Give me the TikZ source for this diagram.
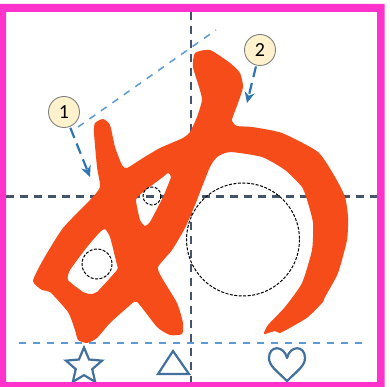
\documentclass[tikz,border=0pt]{standalone}
\usepackage{fontspec}
\setmainfont{Carlito}
\usepackage{tikz}
\usetikzlibrary{arrows.meta, shapes.geometric}
\definecolor{framepink}{HTML}{FF33CC}
\definecolor{glyphred}{HTML}{F54C19}
\definecolor{guideslate}{HTML}{44546A}
\definecolor{guideblue}{HTML}{5B9BD5}
\definecolor{arrowblue}{HTML}{2E75B6}
\definecolor{markblue}{HTML}{41719C}
\definecolor{badgefill}{HTML}{FFF2CC}

\begin{document}
\begin{tikzpicture}[x=1pt, y=-1pt,
    guidedark/.style={guideslate, line width=2.2pt, dash pattern=on 8pt off 6pt},
    guidelight/.style={guideblue, line width=1.5pt, dash pattern=on 7pt off 7pt},
    refcircle/.style={draw=black, line width=1pt, dash pattern=on 3pt off 1.5pt},
    badge/.style={circle, draw=gray, fill=badgefill, line width=0.9pt, minimum size=31pt, inner sep=0pt, font=\fontsize{20}{20}\selectfont},
    callout/.style={arrowblue, line width=2.2pt, dash pattern=on 11pt off 6pt, -{Stealth[length=11pt, width=10pt]}, shorten <=1pt},
    markshape/.style={draw=markblue, line width=2.2pt, fill=white}]
  \useasboundingbox (0,0) rectangle (390,387);
  \fill[white] (0,0) rectangle (390,387);
  % guides under the character
  \coordinate (hl) at (6,196.5);
  \coordinate (hr) at (377,196.5);
  \coordinate (vt) at (191,12);
  \coordinate (vb) at (191,382);
  \coordinate (dl) at (78,127);
  \coordinate (dr) at (216,30);
  \draw[guidedark] (hl) -- (hr);
  \draw[guidedark] (vt) -- (vb);
  \draw[guidelight] (dl) -- (dr);
  % character with its two holes
  \fill[glyphred, even odd rule]
    plot[smooth cycle, tension=0.35] coordinates {
      (95,123) (103,119) (110,125) (115,147) (122,165) (127,168) (143,158)
      (160,148) (183,138) (190,132) (197,117) (202,100) (199,87) (193,67)
      (195,53) (210,50) (230,63) (240,73) (243,87) (238,103) (232,120)
      (237,126) (252,127) (282,133) (318,152) (335,177) (345,197) (348,217)
      (347,240) (338,273) (325,297) (323,302) (308,317) (295,325) (280,333)
      (275,331) (264,334) (268,325) (285,307) (302,283) (312,250) (313,223)
      (308,203) (302,187) (285,170) (262,157) (230,152) (217,157) (210,167)
      (202,187) (195,205) (185,228) (172,250) (158,267) (162,278) (177,303)
      (183,323) (182,334) (170,335) (157,327) (137,302) (128,307) (110,323)
      (97,338) (87,343) (78,340) (75,330) (68,312) (50,292) (42,290) (33,281)
      (43,260) (63,228) (90,200) (100,187) (97,167) (94,133)}
    plot[smooth cycle, tension=0.3] coordinates {
      (105,229) (110,237) (117,265) (117,270) (97,292) (90,294) (83,292)
      (68,280) (70,270) (87,247) (100,232)}
    plot[smooth cycle, tension=0.3] coordinates {
      (168,173) (171,177) (163,197) (150,222) (145,226) (140,220) (136,200)
      (143,192) (163,177)};
  % dashed circles
  \draw[refcircle] (243,239.5) circle (56.5);
  \draw[refcircle] (97,264) circle (15);
  \draw[refcircle] (152,196) circle (9);
  % baseline and its marks
  \coordinate (bl) at (19,343);
  \coordinate (br) at (363,343);
  \draw[guidelight] (bl) -- (br);
  \node[star, star points=5, star point ratio=2.2, minimum size=38pt, inner sep=0pt, markshape] (markstar) at (84,366.5) {};
  \draw[markshape, line join=miter] (173,351) -- (189,374) -- (158,374) -- cycle;
  \draw[markshape, line join=round] (287,381)
    .. controls (277,371) and (269,366) .. (269,358)
    .. controls (269,345) and (284,345) .. (287,358)
    .. controls (290,345) and (305,345) .. (305,358)
    .. controls (305,366) and (297,371) .. (287,381) -- cycle;
  % numbered callouts
  \node[badge] (one) at (64,112) {1};
  \node[badge] (two) at (260,50) {2};
  \coordinate (onetip) at (90,177);
  \coordinate (twotip) at (247,103);
  \draw[callout] (one) -- (onetip);
  \draw[callout] (two) -- (twotip);
  % frame
  \fill[framepink, even odd rule] (0,4) rectangle (384.5,387) (6,12) rectangle (377,382);
\end{tikzpicture}
\end{document}
